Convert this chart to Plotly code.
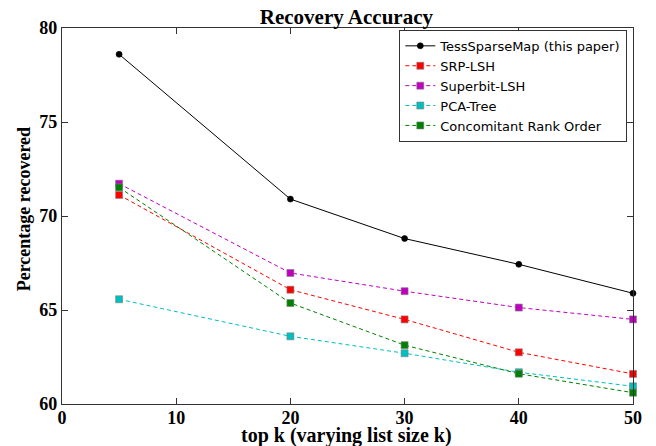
import plotly.graph_objects as go

k = [5, 20, 30, 40, 50]
tess = [78.6, 70.9, 68.8, 67.43, 65.89]
srp = [71.12, 66.08, 64.5, 62.75, 61.6]
superbit = [71.72, 66.97, 66.0, 65.13, 64.5]
pca = [65.57, 63.6, 62.7, 61.69, 60.94]
cro = [71.52, 65.37, 63.13, 61.61, 60.6]

x_ticks = [0, 10, 20, 30, 40, 50]
y_ticks = [60, 65, 70, 75, 80]

series = [
    ("TessSparseMap (this paper)", tess, "black", "solid", "circle"),
    ("SRP-LSH", srp, "#ff0000", "dash", "square"),
    ("Superbit-LSH", superbit, "#bf00bf", "dash", "square"),
    ("PCA-Tree", pca, "#00bfbf", "dash", "square"),
    ("Concomitant Rank Order", cro, "#008000", "dash", "square"),
]

fig = go.Figure()
for name, vals, col, dash, sym in series:
    fig.add_trace(go.Scatter(
        x=k, y=vals, name=name, mode="lines+markers",
        line=dict(color=col, width=1, dash="solid" if dash == "solid" else "4px,3px"),
        marker=dict(symbol=sym, size=7 if sym == "square" else 6, color=col,
                    line=dict(color="#808080" if sym == "square" else col, width=0.6)),
        cliponaxis=False,
    ))

serif = "Liberation Serif, Times New Roman, serif"
axis_common = dict(
    showgrid=False, zeroline=False, showline=True, linecolor="#333333", linewidth=1.2,
    mirror="allticks", ticks="inside", ticklen=6, tickwidth=1, tickcolor="#333333",
    tickfont=dict(family=serif, size=18, color="black", weight="bold"),
    automargin=False,
)
fig.update_layout(
    width=656, height=446,
    margin=dict(l=62, r=23, t=28, b=42),
    paper_bgcolor="white", plot_bgcolor="white",
    title=dict(text="<b>Recovery Accuracy</b>", x=0.528, xanchor="center", y=0.962, yanchor="middle",
               font=dict(family=serif, size=21, color="black")),
    xaxis=dict(range=[0, 50], tickvals=x_ticks, ticklabelstandoff=-3, **axis_common),
    yaxis=dict(range=[60, 80], tickvals=y_ticks, **axis_common),
    legend=dict(x=0.99, y=0.995, xanchor="right", yanchor="top",
                bordercolor="#333333", borderwidth=1, bgcolor="white",
                font=dict(family="DejaVu Sans, sans-serif", size=13, color="black"),
                tracegroupgap=0),
    showlegend=True,
    annotations=[
        dict(text="<b>top k (varying list size k)</b>", xref="paper", yref="paper",
             x=0.498, y=-0.085, xanchor="center", yanchor="middle", showarrow=False,
             font=dict(family=serif, size=20, color="black")),
        dict(text="<b>Percentage recovered</b>", xref="paper", yref="paper",
             x=-0.067, y=0.517, xanchor="center", yanchor="middle", showarrow=False,
             textangle=-90, font=dict(family=serif, size=18, color="black")),
    ],
)
fig.write_html("out.html", config={"displayModeBar": False},
               post_script="document.body.style.margin='0';document.body.style.padding='0';")
